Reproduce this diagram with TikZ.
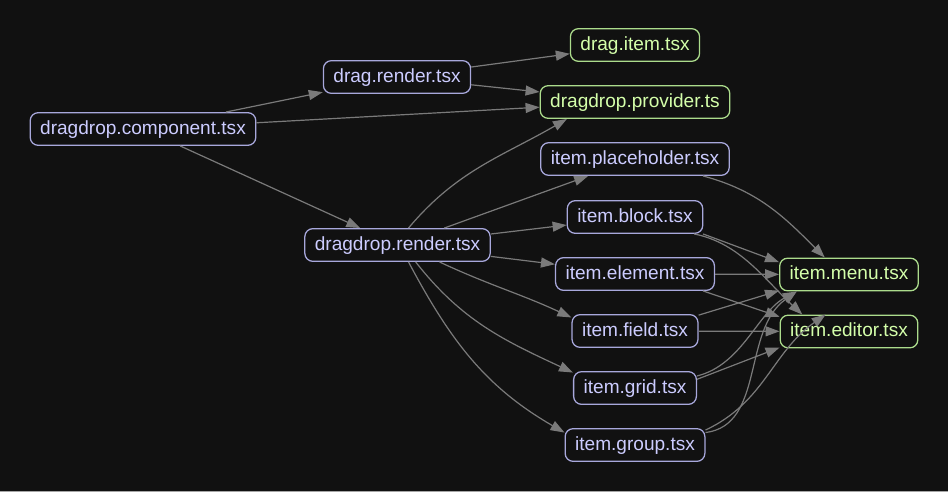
\documentclass[tikz,border=0pt]{standalone}
\usepackage{fontspec}
\setmainfont{Liberation Sans}
\usetikzlibrary{arrows.meta}
\definecolor{bgc}{HTML}{111111}
\definecolor{edgec}{HTML}{7A7A7A}
\definecolor{bluetext}{HTML}{CCCCFF}
\definecolor{blueborder}{HTML}{A8A8DC}
\definecolor{greentext}{HTML}{D4FFAA}
\definecolor{greenborder}{HTML}{ACDC8C}
\tikzset{
  file/.style={draw, rounded corners=6pt, line width=0.95pt, fill=bgc,
    font=\fontsize{14.3}{17}\selectfont, inner xsep=7.5pt, inner ysep=0pt,
    text height=10.6pt, text depth=3pt, minimum height=24.5pt},
  bluefile/.style={file, draw=blueborder, text=bluetext},
  greenfile/.style={file, draw=greenborder, text=greentext},
  dep/.style={draw=edgec, line width=0.9pt,
    -{Triangle[length=10.5pt,width=7.5pt]}, color=edgec}
}
\begin{document}
\begin{tikzpicture}[x=0.75pt,y=0.75pt]
\fill[bgc] (0,0) rectangle (948,-492);
\useasboundingbox (0,0) rectangle (948,-492);
\fill[gray!70] (0,-490.5) rectangle (948,-492);

\node[bluefile] (comp) at (143,-129) {dragdrop.component.tsx};
\node[bluefile] (dr) at (397,-77) {drag.render.tsx};
\node[greenfile] (ditem) at (635,-45) {drag.item.tsx};
\node[greenfile] (prov) at (635,-102) {dragdrop.provider.ts};
\node[bluefile] (ph) at (635,-159) {item.placeholder.tsx};
\node[bluefile] (blk) at (635,-217) {item.block.tsx};
\node[bluefile] (elem) at (635,-274) {item.element.tsx};
\node[bluefile] (fld) at (635,-331) {item.field.tsx};
\node[bluefile] (grid) at (635,-388) {item.grid.tsx};
\node[bluefile] (grp) at (635,-445) {item.group.tsx};
\node[bluefile] (ddr) at (397.5,-245) {dragdrop.render.tsx};
\node[greenfile] (menu) at (849,-274.5) {item.menu.tsx};
\node[greenfile] (ed) at (849,-331.5) {item.editor.tsx};

\draw[dep] (comp) -- (dr);
\draw[dep] (comp) -- (prov);
\draw[dep] (comp) -- (ddr);
\draw[dep] (dr) -- (ditem);
\draw[dep] (dr) -- (prov);

\draw[dep] (ddr.57) to[out=50,in=210] (prov.194);
\draw[dep] (ddr) -- (ph);
\draw[dep] (ddr) -- (blk);
\draw[dep] (ddr) -- (elem);
\draw[dep] (ddr.-22) to[out=-25,in=155] (fld.168);
\draw[dep] (ddr.-43) to[out=-52,in=155] (grid.166);
\draw[dep] (ddr.-57) to[out=-62,in=150] (grp.170);

\draw[dep] (ph.-14) to[out=-15,in=135] (menu.145);
\draw[dep] (blk.-14) -- (menu.170);
\draw[dep] (blk.-16) .. controls (740,-243) and (765,-280) .. (ed.160);
\draw[dep] (elem) -- (menu);
\draw[dep] (elem.-14) -- (ed.168);
\draw[dep] (fld.14) -- (menu.193);
\draw[dep] (fld) -- (ed);
\draw[dep] (grid.11) .. controls (742,-365) and (758,-312) .. (menu.198);
\draw[dep] (grid.8) -- (ed.193);
\draw[dep] (grp.10) .. controls (765,-425) and (742,-330) .. (menu.198);
\draw[dep] (grp.12) to[out=25,in=215] (ed.144);
\end{tikzpicture}
\end{document}
